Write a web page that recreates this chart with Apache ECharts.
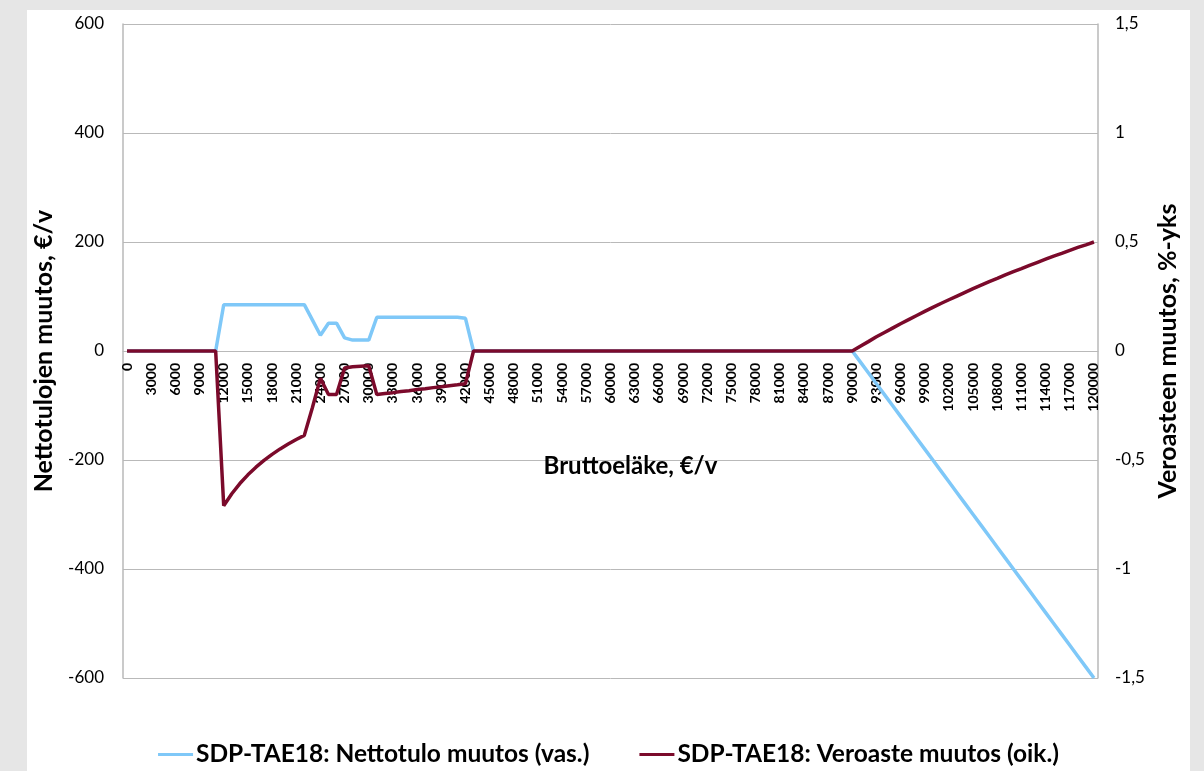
<!DOCTYPE html>
<html>
<head>
<meta charset="utf-8">
<script src="https://cdn.jsdelivr.net/npm/echarts@6/dist/echarts.min.js"></script>
<style>
  html, body { margin: 0; padding: 0; background: #e6e6e6; width: 1204px; height: 771px; overflow: hidden; }
  #chart { position: absolute; left: 27px; top: 10px; width: 1163px; height: 761px; background: #ffffff; }
</style>
</head>
<body>
<div id="chart"></div>
<script>
// bruttoeläke 0 ... 120000 €/v, askel 1000
const categories = [];
for (let i = 0; i <= 120; i++) categories.push(String(i * 1000));

// nettotulon muutos, €/v (vasen akseli)
const nettotulo = [
  0, 0, 0, 0, 0, 0, 0, 0, 0, 0,            // 0-9000
  0, 0, 85, 85, 85, 85, 85, 85, 85, 85,    // 10000-19000
  85, 85, 85, 57, 29, 51, 51, 24, 20, 20,  // 20000-29000
  20, 62, 62, 62, 62, 62, 62, 62, 62, 62,  // 30000-39000
  62, 62, 60, 0, 0, 0, 0, 0, 0, 0,         // 40000-49000
  0, 0, 0, 0, 0, 0, 0, 0, 0, 0,            // 50000-59000
  0, 0, 0, 0, 0, 0, 0, 0, 0, 0,            // 60000-69000
  0, 0, 0, 0, 0, 0, 0, 0, 0, 0,            // 70000-79000
  0, 0, 0, 0, 0, 0, 0, 0, 0, 0,            // 80000-89000
  0, -20, -40, -60, -80, -100, -120, -140, -160, -180,        // 90000-99000
  -200, -220, -240, -260, -280, -300, -320, -340, -360, -380, // 100000-109000
  -400, -420, -440, -460, -480, -500, -520, -540, -560, -580, // 110000-119000
  -600                                                        // 120000
];

// veroasteen muutos, %-yks (oikea akseli)
const veroaste = [
  0, 0, 0, 0, 0, 0, 0, 0, 0, 0,
  0, 0, -0.71, -0.655, -0.608, -0.568, -0.533, -0.502, -0.474, -0.449,
  -0.427, -0.406, -0.387, -0.26, -0.125, -0.2, -0.2, -0.078, -0.072, -0.07,
  -0.068, -0.2, -0.195, -0.191, -0.186, -0.182, -0.177, -0.173, -0.168, -0.164,
  -0.159, -0.155, -0.15, 0, 0, 0, 0, 0, 0, 0,
  0, 0, 0, 0, 0, 0, 0, 0, 0, 0,
  0, 0, 0, 0, 0, 0, 0, 0, 0, 0,
  0, 0, 0, 0, 0, 0, 0, 0, 0, 0,
  0, 0, 0, 0, 0, 0, 0, 0, 0, 0,
  0, 0.022, 0.043, 0.065, 0.085, 0.105, 0.125, 0.144, 0.163, 0.182,
  0.2, 0.218, 0.235, 0.252, 0.269, 0.286, 0.302, 0.318, 0.333, 0.349,
  0.364, 0.378, 0.393, 0.407, 0.421, 0.435, 0.448, 0.462, 0.475, 0.487,
  0.5
];

const fontFamily = 'Lato, "Open Sans", sans-serif';
const gridColor = '#b9b9b9';

const chart = echarts.init(document.getElementById('chart'));

const option = {
  animation: false,
  textStyle: { fontFamily: fontFamily },
  grid: { left: 96, right: 92, top: 14, bottom: 93, containLabel: false, outerBoundsMode: 'none' },
  legend: {
    top: 727,
    left: 'center',
    icon: 'rect',
    itemWidth: 35,
    itemHeight: 3,
    itemGap: 50,
    textStyle: { fontSize: 24.5, fontWeight: 'bold', color: '#000', fontFamily: fontFamily, padding: [0, 0, 0, -2] },
    data: ['SDP-TAE18: Nettotulo muutos (vas.)', 'SDP-TAE18: Veroaste muutos (oik.)']
  },
  xAxis: {
    type: 'category',
    data: categories,
    boundaryGap: true,
    offset: -327,
    name: 'Bruttoeläke, €/v',
    nameLocation: 'middle',
    nameGap: 103,
    nameTextStyle: { fontSize: 24, fontWeight: 'bold', color: '#000', padding: [0, 0, 0, 40] },
    axisLine: { onZero: false, lineStyle: { color: gridColor } },
    axisTick: { show: false },
    axisLabel: { interval: 2, rotate: 90, fontSize: 14, fontWeight: 'bold', color: '#000', margin: 12 },
    splitLine: { show: false }
  },
  yAxis: [
    {
      type: 'value',
      min: -600,
      max: 600,
      interval: 200,
      position: 'left',
      name: 'Nettotulojen muutos, €/v',
      nameLocation: 'middle',
      nameGap: 67,
      nameTextStyle: { fontSize: 25, fontWeight: 'bold', color: '#000' },
      axisLine: { show: true, lineStyle: { color: gridColor, width: 1.5 } },
      axisTick: { show: false },
      axisLabel: { fontSize: 17, color: '#000', margin: 19 },
      splitLine: { show: true, lineStyle: { color: gridColor } }
    },
    {
      type: 'value',
      min: -1.5,
      max: 1.5,
      interval: 0.5,
      position: 'right',
      name: 'Veroasteen muutos, %-yks',
      nameLocation: 'middle',
      nameGap: 43,
      nameTextStyle: { fontSize: 25, fontWeight: 'bold', color: '#000' },
      axisLine: { show: true, lineStyle: { color: gridColor, width: 1.5 } },
      axisTick: { show: false },
      axisLabel: {
        fontSize: 17, color: '#000', margin: 17,
        formatter: v => String(v).replace('.', ',')
      },
      splitLine: { show: false }
    }
  ],
  series: [
    {
      name: 'SDP-TAE18: Nettotulo muutos (vas.)',
      type: 'line',
      yAxisIndex: 0,
      data: nettotulo,
      showSymbol: false,
      symbol: 'none',
      itemStyle: { color: '#7fc8f8' },
      lineStyle: { color: '#7fc8f8', width: 3.5 },
      z: 2
    },
    {
      name: 'SDP-TAE18: Veroaste muutos (oik.)',
      type: 'line',
      yAxisIndex: 1,
      data: veroaste,
      showSymbol: false,
      symbol: 'none',
      itemStyle: { color: '#7b0a2b' },
      lineStyle: { color: '#7b0a2b', width: 3.5 },
      z: 3
    }
  ]
};

chart.setOption(option);
</script>
</body>
</html>
